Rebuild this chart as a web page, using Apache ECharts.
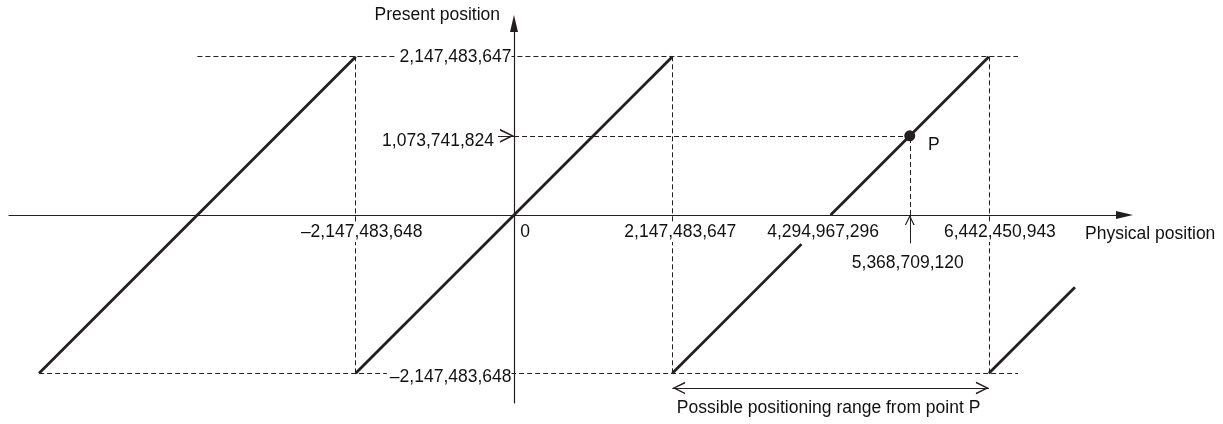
<!DOCTYPE html>
<html><head><meta charset="utf-8">
<script src="https://cdn.jsdelivr.net/npm/echarts@6/dist/echarts.min.js"></script>
<style>html,body{margin:0;padding:0;background:#fff}#c{width:1223px;height:424px}</style>
</head><body><div id="c"></div>
<script>
// ---------------- data (raw counts) ----------------
// Sawtooth segments of present position vs physical position
const toothX0 = [-6442450944, -2147483648, 2147483648, 4294967296, 6442450944];
const toothY0 = [-2147483648, -2147483648, -2147483648, 0, -2147483648];
const toothX1 = [-2147483649, 2147483647, 3900000000, 6442450943, 7610000000];
const toothY1 = [2147483647, 2147483647, -395000000, 2147483647, -980000000];

// Dashed horizontal guides
const guideHY  = [2147483647, -2147483648, 1073741824];
const guideHX0 = [-4294967296, -6442450944, 0];
const guideHX1 = [6837000000, 6837000000, 5368709120];
// Dashed vertical guides
const guideVX  = [-2147483648, 2147483647, 6442450943, 5368709120];
const guideVY0 = [-2147483648, -2147483648, -2147483648, 0];
const guideVY1 = [2147483647, 2147483647, 2147483647, 1073741824];

// Physical-position tick values / labels
const xTickValues = [-2147483648, 0, 2147483647, 4294967296, 5368709120, 6442450943];
const xTickLabels = ['\u20132,147,483,648', '0', '2,147,483,647', '4,294,967,296', '5,368,709,120', '6,442,450,943'];
// Present-position tick values / labels
const yTickValues = [2147483647, 1073741824, -2147483648];
const yTickLabels = ['2,147,483,647', '1,073,741,824', '\u20132,147,483,648'];

// Point P
const pointP = [5368709120, 1073741824];
const pointLabel = 'P';
// Possible positioning range
const rangeX = [2147483647, 6442450943];
const rangeY = -2347000000;
const rangeLabel = 'Possible positioning range from point P';
// small pointer arrows
const upArrowX = 5368709120, upArrowY = [-385000000, 0];
const inArrowY = 1073741824, inArrowX = [-217000000, 0];

const xName = 'Physical position';
const yName = 'Present position';

// ---------------- layout / style ----------------
const INK = '#231f20';
const TEXT = '#111';
const FONT = "'Liberation Sans', Arial, Helvetica, sans-serif";
const FS = 17.5;
const ORIGIN_X = 514, ORIGIN_Y = 215, PX_PER_UNIT = 158.3, UNIT = 2147483648;
const AXIS_LEFT = 9, AXIS_RIGHT_END = 1124.5, AXIS_TOP_END = 23.5, AXIS_BOTTOM = 403;
const px2v = p => p / PX_PER_UNIT * UNIT;
const xMin = -px2v(ORIGIN_X - AXIS_LEFT), xMax = px2v(AXIS_RIGHT_END - ORIGIN_X);
const yMax = px2v(ORIGIN_Y - AXIS_TOP_END), yMin = -px2v(AXIS_BOTTOM - ORIGIN_Y);

const xTickOffsets = [[6, 17], [11, 17], [8, 17], [-7.5, 17], [-2, 48], [11, 17]];
const xTickBg = [true, false, true, true, false, true];
const yTickOffsets = [[-2.5, 0.3], [-20, 5], [-2.5, 4]];
const yTickBg = [true, false, true];

const CHEVRON = 'path://M0,10L5,0L10,10L8.7,10L5,2.4L1.3,10Z';

function textItem(x, y, text, align, dx, dy, bg, pad) {
  return {
    value: [x, y],
    label: {
      show: true, formatter: text, position: 'inside', align: align, verticalAlign: 'middle',
      offset: [dx, dy], color: TEXT, opacity: 1, fontFamily: FONT, fontSize: FS, textBorderWidth: 0,
      backgroundColor: bg ? '#fff' : 'transparent', padding: bg ? pad : 0
    }
  };
}

const labelData = [];
xTickValues.forEach((v, i) => labelData.push(textItem(v, 0, xTickLabels[i], 'center', xTickOffsets[i][0], xTickOffsets[i][1], xTickBg[i], [1, 3])));
yTickValues.forEach((v, i) => labelData.push(textItem(0, v, yTickLabels[i], 'right', yTickOffsets[i][0], yTickOffsets[i][1], yTickBg[i], [0, 0, 0, 3])));
labelData.push(textItem((rangeX[0] + rangeX[1]) / 2, rangeY, rangeLabel, 'center', -2, 20, false));
// x-axis name, placed below-right of the axis end
labelData.push(textItem(xMax, 0, xName, 'left', 1085 - AXIS_RIGHT_END, 19, false));

function lineSeries(data, style, z, extra) {
  return Object.assign({
    type: 'lines', coordinateSystem: 'cartesian2d', polyline: false, silent: true, z: z,
    lineStyle: Object.assign({ color: INK, opacity: 1, curveness: 0 }, style),
    data: data
  }, extra || {});
}

// arrow heads: invisible short carrier segments, symbol tip lands on the arrow end
function headSeries(coords, symbols, size) {
  return lineSeries([{ coords: coords }], { width: 0 }, 6, { symbol: symbols, symbolSize: size });
}
const rangeHL = px2v(6.5);
const upHL = px2v(5);
const inHL = px2v(7);

const option = {
  animation: false,
  backgroundColor: '#fff',
  grid: { left: AXIS_LEFT, top: AXIS_TOP_END, width: AXIS_RIGHT_END - AXIS_LEFT, height: AXIS_BOTTOM - AXIS_TOP_END, containLabel: false },
  xAxis: {
    type: 'value', min: xMin, max: xMax,
    axisLine: { show: true, onZero: true, symbol: ['none', 'triangle'], symbolSize: [8, 17], lineStyle: { color: INK, width: 1.2 } },
    axisTick: { show: false }, axisLabel: { show: false }, splitLine: { show: false }
  },
  yAxis: {
    type: 'value', min: yMin, max: yMax,
    axisLine: { show: true, onZero: true, symbol: ['none', 'triangle'], symbolSize: [8, 17], lineStyle: { color: INK, width: 1.2 } },
    axisTick: { show: false }, axisLabel: { show: false }, splitLine: { show: false },
    name: yName, nameLocation: 'end', nameGap: 8.5,
    nameTextStyle: { color: TEXT, fontFamily: FONT, fontSize: FS, align: 'right', verticalAlign: 'middle', padding: [0, 14, 0, 0] }
  },
  series: [
    // dashed guides
    lineSeries(
      guideHY.map((y, i) => ({ coords: [[guideHX0[i], y], [guideHX1[i], y]] }))
        .concat(guideVX.map((x, i) => ({ coords: [[x, guideVY0[i]], [x, guideVY1[i]]] }))),
      { width: 1, type: [5, 3] }, 2),
    // sawtooth
    lineSeries(toothX0.map((x, i) => ({ coords: [[x, toothY0[i]], [toothX1[i], toothY1[i]]] })),
      { width: 2.8, cap: 'butt' }, 3),
    // arrow shafts
    lineSeries([
      { coords: [[rangeX[0], rangeY], [rangeX[1], rangeY]] },
      { coords: [[upArrowX, upArrowY[0]], [upArrowX, upArrowY[1]]] },
      { coords: [[inArrowX[0], inArrowY], [inArrowX[1], inArrowY]] }
    ], { width: 1 }, 4),
    // arrow heads
    headSeries([[rangeX[0] + rangeHL, rangeY], [rangeX[1] - rangeHL, rangeY]], [CHEVRON, CHEVRON], [12.5, 13]),
    headSeries([[upArrowX, upArrowY[1] - upHL - px2v(1)], [upArrowX, upArrowY[1] - upHL]], ['none', CHEVRON], [8, 10]),
    headSeries([[inArrowX[1] - inHL - px2v(1), inArrowY], [inArrowX[1] - inHL, inArrowY]], ['none', CHEVRON], [7.5, 14]),
    // text labels
    {
      type: 'scatter', silent: true, z: 5, symbol: 'circle', symbolSize: 0.1,
      itemStyle: { color: 'rgba(0,0,0,0)', opacity: 1 }, data: labelData
    },
    // point P
    {
      type: 'scatter', silent: true, z: 7, symbol: 'circle', symbolSize: 11,
      itemStyle: { color: INK, opacity: 1 },
      label: { show: true, formatter: pointLabel, position: 'inside', align: 'center', verticalAlign: 'middle', offset: [24, 9.5], color: TEXT, fontFamily: FONT, fontSize: FS, textBorderWidth: 0 },
      data: [pointP]
    }
  ]
};
const chart = echarts.init(document.getElementById('c'), null, { renderer: 'canvas' });
chart.setOption(option);
</script>
</body></html>
